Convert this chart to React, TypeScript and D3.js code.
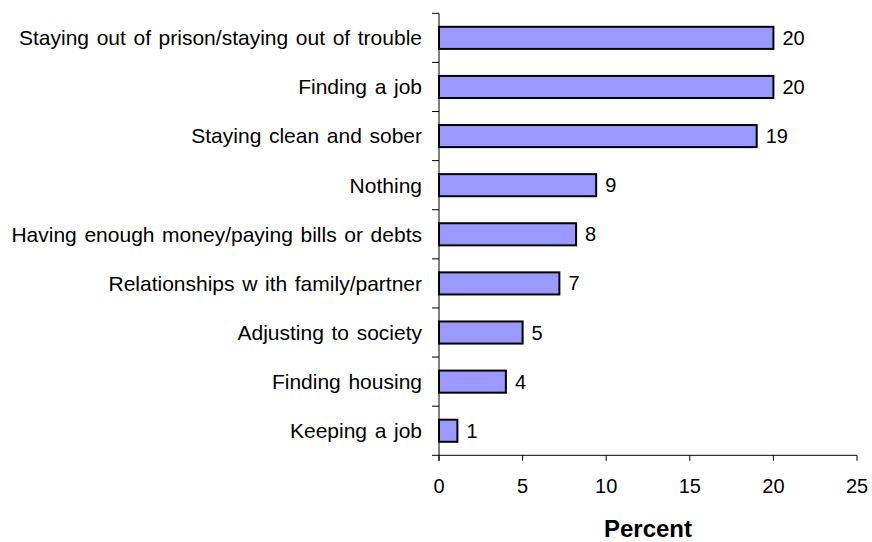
import React from "react";
import * as d3 from "d3";

const categories = [
  "Staying out of prison/staying out of trouble",
  "Finding a job",
  "Staying clean and sober",
  "Nothing",
  "Having enough money/paying bills or debts",
  "Relationships w ith family/partner",
  "Adjusting to society",
  "Finding housing",
  "Keeping a job",
];
const values = [20, 20, 19, 9.4, 8.2, 7.2, 5, 4, 1.1];
const valueLabels = ["20", "20", "19", "9", "8", "7", "5", "4", "1"];
const xTicks = [0, 5, 10, 15, 20, 25];
const xTitle = "Percent";

const W = 872;
const H = 542;
const FONT = "'Liberation Sans', Arial, sans-serif";

export default function App() {
  const x = d3.scaleLinear().domain([0, 25]).range([439, 857]);
  const y = d3
    .scaleBand<string>()
    .domain(categories)
    .range([13.3, 455.3])
    .paddingInner(0.55)
    .paddingOuter(0.275);
  const step = y.step();
  const top = 13.3;
  const bottom = 455.3;
  const boundaries = d3.range(categories.length + 1).map((i) => top + i * step);

  return (
    <svg
      width={W}
      height={H}
      style={{ position: "absolute", left: 0, top: 0, background: "#fff" }}
      fontFamily={FONT}
    >
      <rect x={0} y={0} width={W} height={H} fill="#fff" />
      {/* y axis */}
      <line x1={x(0)} x2={x(0)} y1={top} y2={bottom + 5.5} stroke="#000" strokeWidth={1} />
      {boundaries.map((b, i) => (
        <line key={"yt" + i} x1={x(0) - 7} x2={x(0)} y1={b} y2={b} stroke="#000" strokeWidth={1} />
      ))}
      {/* x axis */}
      <line x1={x(0)} x2={x(25)} y1={bottom} y2={bottom} stroke="#000" strokeWidth={1} />
      {xTicks.map((t) => (
        <g key={"xt" + t}>
          <line x1={x(t)} x2={x(t)} y1={bottom} y2={bottom + 5.5} stroke="#000" strokeWidth={1} />
          <text x={x(t)} y={493.3} textAnchor="middle" fontSize={20} fill="#000">
            {t}
          </text>
        </g>
      ))}
      {/* bars */}
      {categories.map((c, i) => {
        const yy = y(c)!;
        const bw = y.bandwidth();
        return (
          <g key={c}>
            <rect
              x={x(0)}
              y={yy}
              width={x(values[i]) - x(0)}
              height={bw}
              fill="#9999FF"
              stroke="#000"
              strokeWidth={2}
            />
            <text
              x={x(values[i]) + 9}
              y={yy + bw / 2}
              dy="0.35em"
              fontSize={20}
              fill="#000"
            >
              {valueLabels[i]}
            </text>
            <text
              x={422}
              y={yy + bw / 2}
              dy="0.35em"
              textAnchor="end"
              fontSize={21}
              wordSpacing={1.8}
              fill="#000"
            >
              {c}
            </text>
          </g>
        );
      })}
      <text
        x={(x(0) + x(25)) / 2}
        y={537}
        textAnchor="middle"
        fontSize={24}
        fontWeight="bold"
        fill="#000"
      >
        {xTitle}
      </text>
    </svg>
  );
}
